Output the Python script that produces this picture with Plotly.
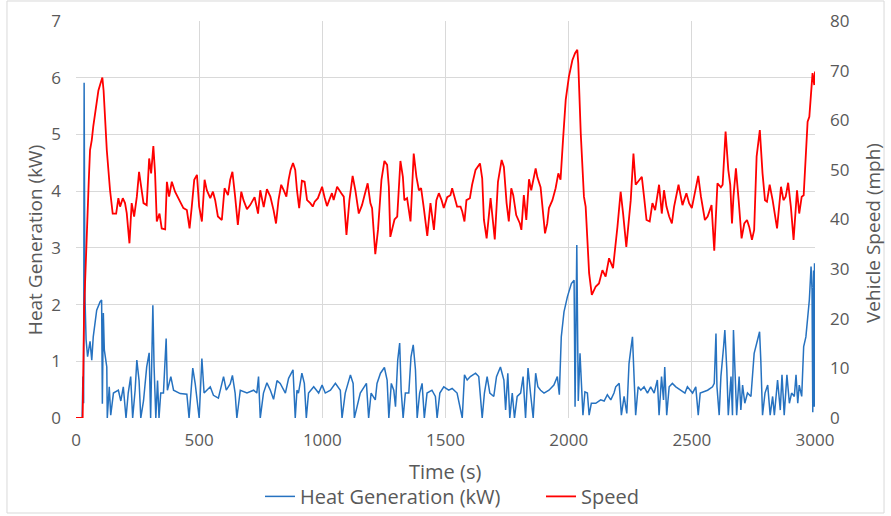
import plotly.graph_objects as go

# ---------------- data ----------------
time_speed = [0, 27, 33, 44, 52, 57, 64, 70, 77, 91, 100, 107, 112, 125, 138, 149, 163, 172, 179, 190,
              199, 206, 217, 226, 236, 247, 256, 264, 274, 287, 297, 305, 314, 321, 328, 339, 348, 362, 369, 378,
              389, 402, 416, 436, 450, 461, 470, 480, 491, 500, 511, 522, 531, 545, 556, 565, 576, 592, 603, 617,
              626, 635, 646, 657, 671, 680, 694, 707, 725, 739, 748, 762, 775, 789, 802, 812, 822, 833, 843, 854,
              863, 871, 881, 890, 897, 906, 917, 928, 938, 951, 961, 969, 982, 999, 1009, 1019, 1028, 1039, 1046, 1060,
              1077, 1087, 1098, 1110, 1123, 1134, 1148, 1161, 1175, 1184, 1195, 1202, 1215, 1226, 1240, 1252, 1263, 1270, 1276, 1286,
              1293, 1304, 1317, 1327, 1333, 1344, 1358, 1371, 1382, 1392, 1401, 1412, 1426, 1439, 1453, 1463, 1473, 1484, 1493, 1507,
              1520, 1527, 1537, 1547, 1561, 1568, 1577, 1585, 1599, 1608, 1622, 1640, 1649, 1656, 1667, 1683, 1692, 1700, 1713, 1728,
              1737, 1748, 1757, 1767, 1775, 1787, 1802, 1808, 1818, 1828, 1839, 1848, 1866, 1873, 1886, 1896, 1904, 1913, 1920, 1934,
              1947, 1958, 1967, 1977, 1988, 2001, 2015, 2026, 2035, 2039, 2049, 2062, 2069, 2083, 2094, 2110, 2123, 2137, 2150, 2164,
              2180, 2198, 2211, 2221, 2234, 2252, 2263, 2272, 2286, 2297, 2306, 2316, 2329, 2340, 2351, 2367, 2378, 2387, 2397, 2408,
              2419, 2428, 2446, 2462, 2478, 2489, 2500, 2507, 2516, 2526, 2537, 2553, 2564, 2580, 2591, 2604, 2618, 2625, 2637, 2648,
              2656, 2663, 2669, 2679, 2690, 2702, 2713, 2724, 2733, 2744, 2753, 2763, 2776, 2787, 2797, 2805, 2816, 2828, 2846, 2862,
              2872, 2881, 2891, 2902, 2913, 2927, 2936, 2946, 2954, 2963, 2970, 2977, 2986, 2990, 2997, 3000]
speed_mph = [0, 0, 22, 35, 48, 54, 56, 58.7, 61.4, 66, 67.5, 68.6, 66, 54, 46, 41.2, 41.2, 44.3, 42.6, 44.3,
             43.3, 41.3, 35.2, 43.3, 40.6, 44.6, 49.6, 46.6, 43.3, 42.9, 52.3, 49.3, 54.8, 49.3, 39.6, 41.2, 38.2, 38.0, 47.6, 44.6,
             47.6, 45.6, 44.3, 42.3, 41.9, 38.2, 42.6, 48.0, 49.0, 42.6, 39.6, 48, 45.9, 44.3, 45.6, 43.9, 40.6, 39.9, 46.3, 44.9,
             48.0, 49.6, 44.6, 38.9, 45.6, 43.9, 42.1, 42.9, 44.5, 41.2, 45.9, 42.5, 46.1, 44.6, 41.9, 39.2, 43.9, 47, 45.9, 44.6,
             48, 50, 51.4, 50, 45.9, 42.3, 47.8, 47.6, 43.9, 43.3, 42.6, 43.6, 44.3, 46.6, 44.5, 42.7, 43.9, 45.3, 43.9, 46.6,
             45.3, 44.6, 36.9, 43.9, 48.8, 45.9, 41.2, 42.9, 45.6, 47.3, 43.3, 42.3, 33.0, 37.9, 48, 51.8, 51.0, 46.6, 36.5, 38.5,
             40.0, 40.6, 51.8, 48.6, 43.9, 44.3, 39.6, 53.3, 48.6, 45.9, 46.3, 42.3, 36.7, 43.3, 37.9, 43.9, 45.3, 43.9, 42.3, 44.5,
             44.9, 46.3, 44.6, 42.6, 42.6, 41.6, 39.6, 43.9, 44.3, 47, 50, 51.3, 48.3, 39.9, 36.2, 44.3, 39.9, 36.0, 47.6, 52,
             50.6, 43.3, 39.6, 46.3, 44.9, 40.9, 39.2, 37.9, 44.9, 39.9, 48.1, 45.9, 50.3, 48.5, 46.5, 40.6, 37.2, 39.2, 42.3, 43.9,
             46.3, 49.3, 48.0, 56.0, 64.1, 68.8, 72.1, 73.5, 74.2, 71.5, 57.4, 44.6, 42.6, 29.2, 24.8, 26.5, 27.1, 29.8, 28.5, 32.2,
             30.2, 38.5, 45.6, 41.2, 34.5, 43.9, 53.3, 47.0, 48, 48.6, 44.6, 39.9, 39.6, 43.3, 41.9, 47, 41.2, 45.9, 42.6, 40.6,
             39.2, 42.6, 47, 42.9, 45.3, 43.3, 42.3, 43.9, 46.6, 48.8, 44.6, 39.9, 40.6, 42.9, 33.7, 47.3, 46.5, 47, 57.7, 50,
             47, 39.2, 44.6, 50.3, 43.9, 36.2, 39.2, 39.9, 38.5, 35.9, 37.9, 52.7, 58.0, 49.3, 43.9, 43.6, 47, 43.9, 38.2, 46.6,
             43.9, 44.6, 47.4, 42.6, 35.9, 45.9, 41.2, 44.6, 44.9, 53.3, 59.7, 60.7, 68.1, 69.5, 67.1, 69.8]

time_heat = [0, 25, 28, 31, 33, 34, 36, 41, 47, 57, 64, 70, 84, 98, 104, 107, 111, 115, 125, 127,
             135, 141, 152, 172, 182, 192, 203, 212, 222, 230, 240, 247, 256, 263, 274, 287, 297, 303, 312, 317,
             324, 331, 337, 344, 355, 366, 371, 385, 396, 423, 450, 459, 474, 484, 500, 511, 520, 531, 545, 558,
             578, 599, 610, 626, 635, 646, 653, 667, 694, 721, 734, 741, 748, 761, 775, 789, 802, 816, 829, 850,
             863, 881, 890, 897, 903, 917, 927, 935, 944, 965, 985, 999, 1012, 1033, 1053, 1073, 1080, 1093, 1114, 1125,
             1130, 1141, 1154, 1179, 1188, 1198, 1215, 1222, 1236, 1252, 1263, 1270, 1280, 1290, 1297, 1306, 1314, 1320, 1328, 1337,
             1351, 1360, 1369, 1378, 1385, 1395, 1405, 1414, 1425, 1445, 1459, 1466, 1477, 1493, 1513, 1527, 1547, 1568, 1577, 1588,
             1601, 1622, 1635, 1649, 1658, 1669, 1680, 1696, 1707, 1723, 1737, 1744, 1753, 1761, 1771, 1780, 1791, 1805, 1815, 1825,
             1835, 1845, 1856, 1866, 1875, 1886, 1900, 1920, 1940, 1954, 1962, 1970, 1981, 1995, 2011, 2022, 2026, 2033, 2035, 2039,
             2046, 2052, 2058, 2066, 2076, 2083, 2092, 2110, 2130, 2144, 2157, 2171, 2184, 2191, 2205, 2214, 2225, 2236, 2245, 2252,
             2259, 2266, 2272, 2282, 2293, 2306, 2320, 2333, 2347, 2360, 2367, 2377, 2385, 2390, 2398, 2408, 2421, 2435, 2455, 2472,
             2482, 2503, 2516, 2526, 2534, 2550, 2564, 2584, 2591, 2598, 2602, 2611, 2618, 2629, 2634, 2642, 2648, 2659, 2665, 2669,
             2675, 2682, 2692, 2699, 2706, 2715, 2726, 2740, 2753, 2764, 2775, 2780, 2787, 2797, 2808, 2818, 2828, 2835, 2848, 2859,
             2866, 2875, 2886, 2896, 2905, 2916, 2923, 2930, 2936, 2946, 2954, 2963, 2970, 2977, 2984, 2988, 2991, 2994, 2996, 2998,
             3000]
heat_kw = [0, 0, 0.73, 0.26, 5.91, 3.4, 2.2, 1.38, 1.08, 1.35, 1.02, 1.43, 1.90, 2.05, 2.08, 0.25, 1.85, 1.2, 0.9, 0,
           0.55, 0.05, 0.44, 0.49, 0.3, 0.55, 0, 0.44, 0.73, 0, 0.49, 1.02, 0.66, 0, 0.3, 0.9, 1.15, 0, 1.99, 0.9,
           0, 0.66, 0, 0.44, 0.44, 1.40, 0.49, 0.73, 0.49, 0.43, 0.42, 0, 0.88, 0.6, 0, 1.05, 0.44, 0.49, 0.55, 0.4,
           0.35, 0.73, 0.49, 0.6, 0.75, 0.44, 0, 0.49, 0.44, 0.49, 0.44, 0.73, 0, 0.44, 0.62, 0.49, 0.33, 0.66, 0.61, 0.44,
           0.70, 0.85, 0, 0.49, 0.44, 0.79, 0.61, 0, 0.44, 0.55, 0.44, 0.58, 0.44, 0.49, 0.61, 0.49, 0, 0.44, 0.76, 0.61,
           0, 0.2, 0.44, 0.61, 0, 0.44, 0.32, 0.61, 0.79, 0.89, 0.67, 0, 0.61, 0.49, 0.2, 1.02, 1.32, 0.49, 0, 0.44,
           0.44, 1.08, 1.29, 0.85, 0, 0.44, 0.61, 0, 0.44, 0.49, 0.38, 0, 0.44, 0.55, 0.49, 0.52, 0.44, 0, 0.76, 0.67,
           0.73, 0.79, 0.73, 0, 0.44, 0.73, 0.44, 0.38, 0.73, 0.90, 0.67, 0.14, 0.79, 0, 0.44, 0, 0.38, 0.44, 0.73, 0,
           0.88, 0.44, 0, 0.79, 0.55, 0.49, 0.44, 0.49, 0.58, 0.73, 0.41, 1.43, 1.87, 2.14, 2.37, 2.43, 0.2, 3.05, 2.1, 0.3,
           1.14, 0.67, 0.05, 0.46, 0.44, 0.05, 0.26, 0.26, 0.32, 0.3, 0.41, 0.32, 0.44, 0.55, 0.61, 0.05, 0.38, 0.08, 0.96, 1.2,
           1.43, 0.67, 0.05, 0.55, 0.49, 0.55, 0.44, 0.55, 0.44, 0.67, 0.05, 0.73, 0.32, 0.9, 0.05, 0.55, 0.61, 0.55, 0.49, 0.44,
           0.55, 0.44, 0.55, 0.05, 0.44, 0.46, 0.49, 0.55, 0.61, 1.49, 0.55, 0.05, 0.73, 1.26, 1.55, 0.85, 0.05, 0.73, 0.05, 1.55,
           0.85, 0.05, 0.73, 0.14, 0.58, 0.26, 0.44, 0.38, 1.14, 1.32, 1.52, 1.02, 0.05, 0.44, 0.58, 0.05, 0.38, 0.05, 0.67, 0.14,
           0.76, 0.05, 0.76, 0.26, 0.44, 0.38, 0.76, 0.26, 0.58, 0.38, 1.26, 1.43, 1.73, 2.08, 2.67, 2.26, 0.1, 2.6, 0.2, 2.73,
           0.2]

x_ticks = [0, 500, 1000, 1500, 2000, 2500, 3000]
left_ticks = [0, 1, 2, 3, 4, 5, 6, 7]
right_ticks = [0, 10, 20, 30, 40, 50, 60, 70, 80]

# ---------------- figure ----------------
TXT = "#595959"
GRID = "#d9d9d9"
FONT = "Open Sans"

fig = go.Figure()
fig.add_trace(go.Scatter(x=time_heat, y=heat_kw, mode="lines", name="Heat Generation (kW)",
                         line=dict(color="#2672C0", width=1.5), yaxis="y"))
fig.add_trace(go.Scatter(x=time_speed, y=speed_mph, mode="lines", name="Speed",
                         line=dict(color="#FF0000", width=1.8), yaxis="y2"))

fig.update_layout(
    width=891, height=516,
    margin=dict(l=76, r=76, t=21, b=98, autoexpand=False),
    paper_bgcolor="white", plot_bgcolor="white",
    font=dict(family=FONT, color=TXT, size=17),
    showlegend=True,
    legend=dict(orientation="h", x=0.2918, xanchor="left", xref="container",
                y=0.038, yanchor="middle", yref="container", bgcolor="rgba(0,0,0,0)",
                font=dict(size=20, color=TXT), entrywidth=236, entrywidthmode="pixels",
                itemwidth=30, tracegroupgap=0),
    xaxis=dict(range=[0, 3000], tickvals=x_ticks, showgrid=True, gridcolor=GRID, gridwidth=1.2,
               zeroline=False, showline=False, ticks="", ticklabelstandoff=10, automargin=False,
               tickfont=dict(size=17, color=TXT)),
    yaxis=dict(range=[0, 7], tickvals=left_ticks, showgrid=True, gridcolor=GRID, gridwidth=1.2,
               zeroline=False, showline=False, ticks="", ticklabelstandoff=14, automargin=False,
               tickfont=dict(size=17, color=TXT)),
    yaxis2=dict(range=[0, 80], tickvals=right_ticks, overlaying="y", side="right", showgrid=False,
                zeroline=False, showline=False, ticks="", ticklabelstandoff=14, automargin=False,
                tickfont=dict(size=17, color=TXT)),
    annotations=[
        dict(text="Heat Generation (kW)", xref="paper", yref="paper", x=-0.0555, y=0.448,
             textangle=-90, showarrow=False, xanchor="center", yanchor="middle",
             font=dict(size=19, color=TXT)),
        dict(text="Vehicle Speed (mph)", xref="paper", yref="paper", x=1.0785, y=0.466,
             textangle=-90, showarrow=False, xanchor="center", yanchor="middle",
             font=dict(size=19, color=TXT)),
        dict(text="Time (s)", xref="paper", yref="paper", x=0.4993, y=-0.136,
             showarrow=False, xanchor="center", yanchor="middle",
             font=dict(size=20, color=TXT)),
    ],
    shapes=[dict(type="rect", xref="paper", yref="paper", x0=-0.0934, x1=1.0934, y0=-0.2393, y1=1.0504,
                 line=dict(color=GRID, width=1), fillcolor="rgba(0,0,0,0)", layer="below")],
)

fig.write_html("out.html")
